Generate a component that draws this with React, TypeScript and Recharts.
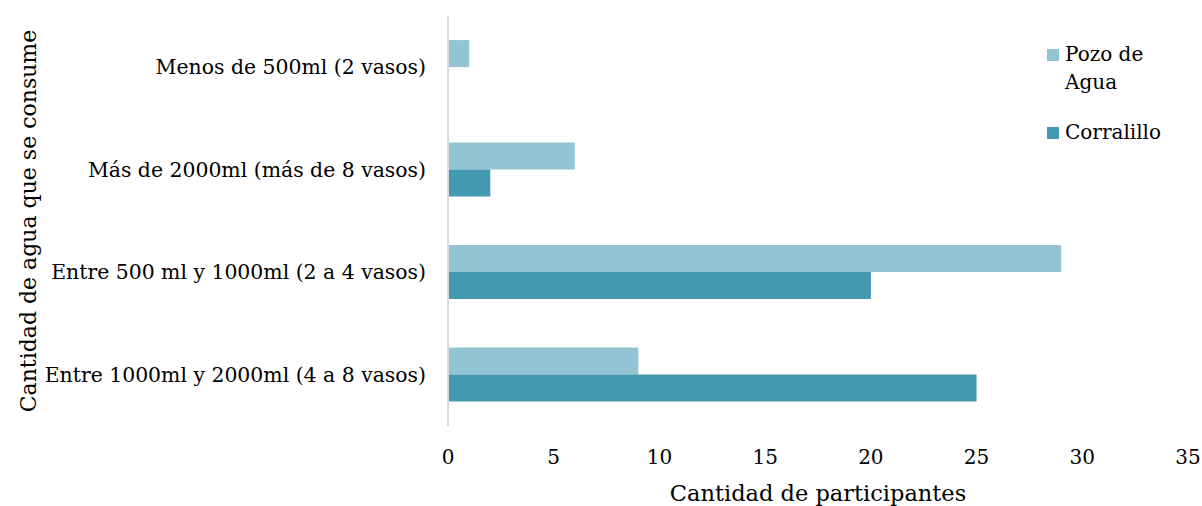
import React from 'react';
import { BarChart, Bar, XAxis, YAxis, Label } from 'recharts';

// consumo de agua por comunidad
const categories = [
  'Menos de 500ml (2 vasos)',
  'Más de 2000ml (más de 8 vasos)',
  'Entre 500 ml y 1000ml (2 a 4 vasos)',
  'Entre 1000ml y 2000ml (4 a 8 vasos)',
];
const pozoDeAgua = [1, 6, 29, 9];
const corralillo = [0, 2, 20, 25];
const xTicks = [0, 5, 10, 15, 20, 25, 30, 35];

const seriesNames = ['Pozo de Agua', 'Corralillo'];
const seriesColors = ['#93C4D3', '#4399B0'];

const data = categories.map((c, i) => ({
  name: c,
  pozo: pozoDeAgua[i],
  corralillo: corralillo[i],
}));

const FONT = '"DejaVu Serif", serif';

export default function App() {
  return (
    <div style={{ position: 'absolute', left: 0, top: 0, width: 1202, height: 506, background: '#fff', fontFamily: FONT }}>
      <BarChart
        width={1202}
        height={506}
        data={data}
        layout="vertical"
        margin={{ top: 16, right: 14, bottom: 0, left: 0 }}
        barCategoryGap="23.5%"
        barGap={0}
      >
        <XAxis
          type="number"
          domain={[0, 35]}
          ticks={xTicks}
          axisLine={false}
          tickLine={false}
          tickSize={0}
          tickMargin={24}
          height={80}
          tick={{ fontSize: 20, fill: '#000', fontFamily: FONT }}
        >
          <Label
            value="Cantidad de participantes"
            position="insideBottom"
            offset={5}
            style={{ fontSize: 22.5, fill: '#000', fontFamily: FONT }}
          />
        </XAxis>
        <YAxis
          type="category"
          dataKey="name"
          width={448}
          axisLine={{ stroke: '#d9d9d9', strokeWidth: 2 }}
          tickLine={false}
          tickSize={0}
          tickMargin={22}
          interval={0}
          tick={{ fontSize: 20.4, fill: '#000', fontFamily: FONT }}
        >
          <Label
            content={(props: any) => {
              const vb = props.viewBox;
              const cx = 28;
              const cy = vb.y + vb.height / 2;
              return (
                <text
                  x={cx}
                  y={cy}
                  transform={`rotate(-90, ${cx}, ${cy})`}
                  textAnchor="middle"
                  dominantBaseline="central"
                  style={{ fontSize: 22, fill: '#000', fontFamily: FONT }}
                >
                  Cantidad de agua que se consume
                </text>
              );
            }}
          />
        </YAxis>
        <Bar dataKey="pozo" name={seriesNames[0]} fill={seriesColors[0]} isAnimationActive={false} />
        <Bar dataKey="corralillo" name={seriesNames[1]} fill={seriesColors[1]} isAnimationActive={false} />
      </BarChart>
      <div style={{ position: 'absolute', left: 1047, top: 40, width: 140, fontSize: 20, lineHeight: '28px', color: '#000' }}>
        {seriesNames.map((n, i) => (
          <div key={n} style={{ display: 'flex', alignItems: 'flex-start', marginBottom: 22 }}>
            <span style={{ display: 'inline-block', width: 12, height: 12, background: seriesColors[i], marginTop: 9, marginRight: 6, flexShrink: 0 }} />
            <span style={{ width: 96 }}>{n}</span>
          </div>
        ))}
      </div>
    </div>
  );
}
